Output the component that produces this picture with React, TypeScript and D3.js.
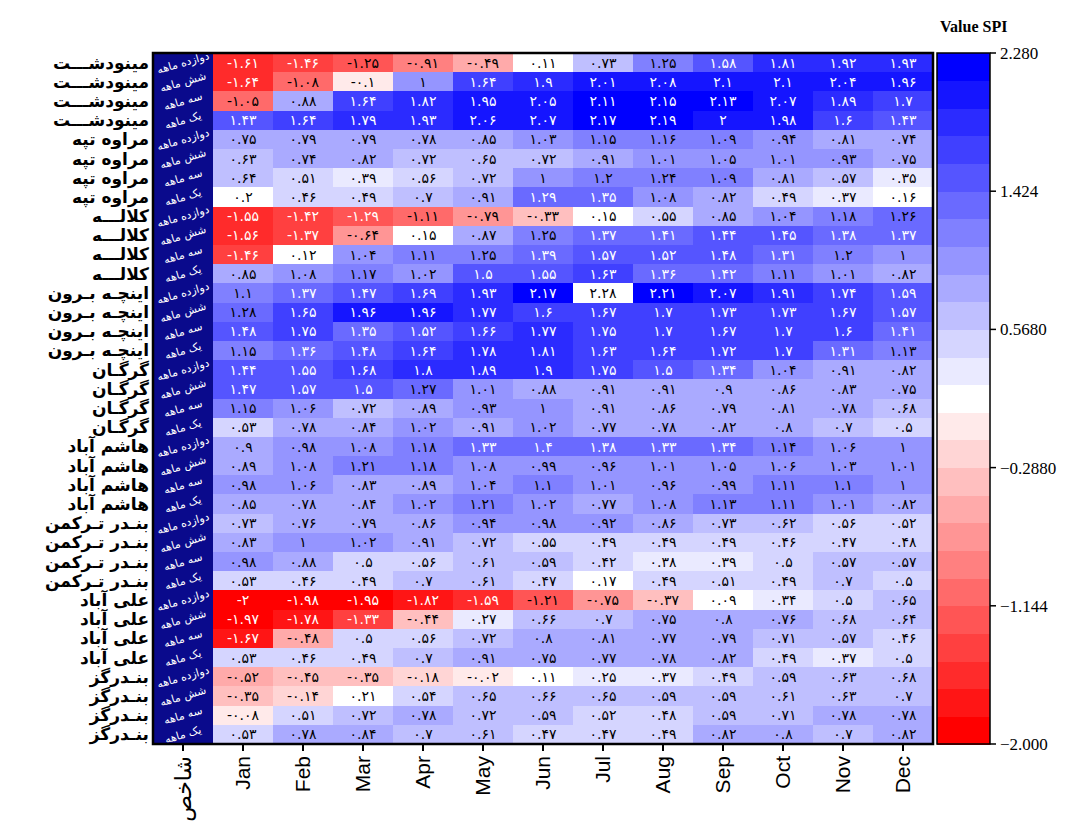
import React from 'react';
import * as d3 from 'd3';

const months = ['Jan', 'Feb', 'Mar', 'Apr', 'May', 'Jun', 'Jul', 'Aug', 'Sep', 'Oct', 'Nov', 'Dec'];
const indexLabel = 'شاخص';
const stations = ['مینودشـــت', 'مراوه تپه', 'کلالـــه', 'اینچـه بـرون', 'گرگـان', 'هاشم آباد', 'بنـدر تـرکمن', 'علی آباد', 'بنـدرگز'];
const timescales = ['دوازده ماهه', 'شش ماهه', 'سه ماهه', 'یک ماهه'];
const legendTicks = [2.28, 1.424, 0.568, -0.288, -1.144, -2.0];
const legendTickLabels = ['2.280', '1.424', '0.5680', '\u22120.2880', '\u22121.144', '\u22122.000'];
const legendTitle = 'Value SPI';

const minudasht = [
  [-1.61, -1.46, -1.25, -0.91, -0.49, 0.11, 0.73, 1.25, 1.58, 1.81, 1.92, 1.93],
  [-1.64, -1.08, -0.1, 1, 1.64, 1.9, 2.01, 2.08, 2.1, 2.1, 2.04, 1.96],
  [-1.05, 0.88, 1.64, 1.82, 1.95, 2.05, 2.11, 2.15, 2.13, 2.07, 1.89, 1.7],
  [1.43, 1.64, 1.79, 1.93, 2.06, 2.07, 2.17, 2.19, 2, 1.98, 1.6, 1.43],
];
const maravehTappeh = [
  [0.75, 0.79, 0.79, 0.78, 0.85, 1.03, 1.15, 1.16, 1.09, 0.94, 0.81, 0.74],
  [0.63, 0.74, 0.82, 0.72, 0.65, 0.72, 0.91, 1.01, 1.05, 1.01, 0.93, 0.75],
  [0.64, 0.51, 0.39, 0.56, 0.72, 1, 1.2, 1.24, 1.09, 0.81, 0.57, 0.35],
  [0.2, 0.46, 0.49, 0.7, 0.91, 1.29, 1.35, 1.08, 0.82, 0.49, 0.37, 0.16],
];
const kalaleh = [
  [-1.55, -1.42, -1.29, -1.11, -0.79, -0.33, 0.15, 0.55, 0.85, 1.04, 1.18, 1.26],
  [-1.56, -1.37, -0.64, 0.15, 0.87, 1.25, 1.37, 1.41, 1.44, 1.45, 1.38, 1.37],
  [-1.46, 0.12, 1.04, 1.11, 1.25, 1.39, 1.57, 1.52, 1.48, 1.31, 1.2, 1],
  [0.85, 1.08, 1.17, 1.02, 1.5, 1.55, 1.63, 1.36, 1.42, 1.11, 1.01, 0.82],
];
const incheBoroun = [
  [1.1, 1.37, 1.47, 1.69, 1.93, 2.17, 2.28, 2.21, 2.07, 1.91, 1.74, 1.59],
  [1.28, 1.65, 1.96, 1.96, 1.77, 1.6, 1.67, 1.7, 1.73, 1.73, 1.67, 1.57],
  [1.48, 1.75, 1.35, 1.52, 1.66, 1.77, 1.75, 1.7, 1.67, 1.7, 1.6, 1.41],
  [1.15, 1.36, 1.48, 1.64, 1.78, 1.81, 1.63, 1.64, 1.72, 1.7, 1.31, 1.13],
];
const gorgan = [
  [1.44, 1.55, 1.68, 1.8, 1.89, 1.9, 1.75, 1.5, 1.34, 1.04, 0.91, 0.82],
  [1.47, 1.57, 1.5, 1.27, 1.01, 0.88, 0.91, 0.91, 0.9, 0.86, 0.83, 0.75],
  [1.15, 1.06, 0.72, 0.89, 0.93, 1, 0.91, 0.86, 0.79, 0.81, 0.78, 0.68],
  [0.53, 0.78, 0.84, 1.02, 0.91, 1.02, 0.77, 0.78, 0.82, 0.8, 0.7, 0.5],
];
const hashemabad = [
  [0.9, 0.98, 1.08, 1.18, 1.33, 1.4, 1.38, 1.33, 1.34, 1.14, 1.06, 1],
  [0.89, 1.08, 1.21, 1.18, 1.08, 0.99, 0.96, 1.01, 1.05, 1.06, 1.03, 1.01],
  [0.98, 1.06, 0.83, 0.89, 1.04, 1.1, 1.01, 0.96, 0.99, 1.11, 1.1, 1],
  [0.85, 0.78, 0.84, 1.02, 1.21, 1.02, 0.77, 1.08, 1.13, 1.11, 1.01, 0.82],
];
const bandarTorkaman = [
  [0.73, 0.76, 0.79, 0.86, 0.94, 0.98, 0.92, 0.86, 0.73, 0.62, 0.56, 0.52],
  [0.83, 1, 1.02, 0.91, 0.72, 0.55, 0.49, 0.49, 0.49, 0.46, 0.47, 0.48],
  [0.98, 0.88, 0.5, 0.56, 0.61, 0.59, 0.42, 0.38, 0.39, 0.5, 0.57, 0.57],
  [0.53, 0.46, 0.49, 0.7, 0.61, 0.47, 0.17, 0.49, 0.51, 0.49, 0.7, 0.5],
];
const aliabad = [
  [-2, -1.98, -1.95, -1.82, -1.59, -1.21, -0.75, -0.37, 0.09, 0.34, 0.5, 0.65],
  [-1.97, -1.78, -1.33, -0.44, 0.27, 0.66, 0.7, 0.75, 0.8, 0.76, 0.68, 0.64],
  [-1.67, -0.48, 0.5, 0.56, 0.72, 0.8, 0.81, 0.77, 0.79, 0.71, 0.57, 0.46],
  [0.53, 0.46, 0.49, 0.7, 0.91, 0.75, 0.77, 0.78, 0.82, 0.49, 0.37, 0.5],
];
const bandarGaz = [
  [-0.52, -0.45, -0.35, -0.18, -0.02, 0.11, 0.25, 0.37, 0.49, 0.59, 0.63, 0.68],
  [-0.35, -0.14, 0.21, 0.54, 0.65, 0.66, 0.65, 0.59, 0.59, 0.61, 0.63, 0.7],
  [-0.08, 0.51, 0.72, 0.78, 0.72, 0.59, 0.52, 0.48, 0.59, 0.71, 0.78, 0.78],
  [0.53, 0.78, 0.84, 0.7, 0.61, 0.47, 0.47, 0.49, 0.82, 0.8, 0.7, 0.82],
];
const stationData = [minudasht, maravehTappeh, kalaleh, incheBoroun, gorgan, hashemabad, bandarTorkaman, aliabad, bandarGaz];

const VMIN = -2.0;
const VMAX = 2.28;
const NBINS = 25;

const toFa = (s: string) => s.replace(/\d/g, (d) => '۰۱۲۳۴۵۶۷۸۹'[+d]);

function binColor(idx: number): string {
  if (idx < 0 || idx >= NBINS) return '#ffffff';
  const mid = (NBINS - 1) / 2;
  if (idx < mid) return d3.interpolateRgb('#ff0000', '#ffffff')(idx / mid);
  if (idx === mid) return '#ffffff';
  return d3.interpolateRgb('#ffffff', '#0000ff')((idx - mid) / mid);
}

export default function App() {
  const W = 1083;
  const H = 831;
  const L = 153, R = 933, T = 53, B = 744;
  const cols = [indexLabel, ...months];
  const x = d3.scaleBand<string>().domain(cols).range([L, R]);
  const rows = stationData.flatMap((sd, si) =>
    sd.map((vals, ti) => ({ key: `${si}-${ti}`, station: stations[si], scale: timescales[ti], vals }))
  );
  const y = d3.scaleBand<string>().domain(rows.map((r) => r.key)).range([T, B]);
  const binW = (VMAX - VMIN) / NBINS;
  const binOf = (v: number) => Math.floor((v - VMIN) / binW + 1e-9);
  const cbX0 = 937, cbX1 = 990;
  const cy = d3.scaleLinear().domain([VMIN, VMAX]).range([B, T]);
  const bins = d3.range(NBINS);

  const faFont = '"DejaVu Sans", sans-serif';

  return (
    <svg width={W} height={H} style={{ position: 'absolute', left: 0, top: 0, background: '#fff' }}>
      {/* index column */}
      <rect x={x(indexLabel)} y={T} width={x.bandwidth()} height={B - T} fill="#0a0a8c" />
      {rows.map((r) => {
        const cx = (x(indexLabel) as number) + x.bandwidth() / 2;
        const yy = (y(r.key) as number) + y.bandwidth() / 2;
        return (
          <text key={'ts' + r.key} x={cx} y={yy} dy="0.35em" fill="#fff" fontSize={11}
            fontFamily={faFont} textAnchor="middle" transform={`rotate(-16 ${cx} ${yy})`}>
            {r.scale}
          </text>
        );
      })}
      {/* cells */}
      {rows.map((r) =>
        r.vals.map((v, mi) => {
          const col = binColor(binOf(v));
          return (
            <rect key={r.key + '-' + mi} x={x(months[mi])} y={y(r.key)} width={x.bandwidth() + 0.5}
              height={y.bandwidth() + 0.5} fill={col} shapeRendering="crispEdges" />
          );
        })
      )}
      {rows.map((r) =>
        r.vals.map((v, mi) => {
          const b = binOf(v);
          const inRange = b >= 0 && b < NBINS;
          const white = inRange && (v >= 1.29 || v <= -1.28);
          const cx = (x(months[mi]) as number) + x.bandwidth() / 2;
          const yy = (y(r.key) as number) + y.bandwidth() / 2;
          return (
            <text key={'t' + r.key + '-' + mi} x={cx} y={yy} dy="0.36em" textAnchor="middle"
              fontSize={14} fontFamily={faFont} fill={white ? '#ffffff' : '#000000'}>
              {toFa(String(v))}
            </text>
          );
        })
      )}
      {/* frame */}
      <rect x={L} y={T} width={R - L} height={B - T} fill="none" stroke="#000" strokeWidth={2.5} />
      {/* x ticks and labels */}
      {cols.map((c) => {
        const cx = (x(c) as number) + x.bandwidth() / 2;
        const ly = B + 12;
        return (
          <g key={'x' + c}>
            <line x1={cx} x2={cx} y1={B} y2={B + 7} stroke="#000" strokeWidth={2} />
            <text x={cx} y={ly} dy="0.35em" textAnchor="end" fontSize={c === indexLabel ? 22 : 21}
              fontFamily={c === indexLabel ? faFont : '"Liberation Sans", Arial, sans-serif'}
              transform={`rotate(-90 ${cx} ${ly})`} fill="#000">
              {c}
            </text>
          </g>
        );
      })}
      {/* station labels */}
      {rows.map((r) => {
        const yy = (y(r.key) as number) + y.bandwidth() / 2;
        return (
          <text key={'s' + r.key} x={L - 4} y={yy} dy="0.35em" textAnchor="end" fontSize={17}
            fontWeight="bold" fontFamily={faFont} fill="#000">
            {r.station}
          </text>
        );
      })}
      {/* colorbar */}
      {bins.map((i) => (
        <rect key={'cb' + i} x={cbX0} y={cy(VMIN + (i + 1) * binW)} width={cbX1 - cbX0}
          height={cy(VMIN + i * binW) - cy(VMIN + (i + 1) * binW) + 0.5} fill={binColor(i)}
          shapeRendering="crispEdges" />
      ))}
      <rect x={cbX0} y={T} width={cbX1 - cbX0} height={B - T} fill="none" stroke="#000" strokeWidth={1.5} />
      {legendTicks.map((t, i) => (
        <g key={'lt' + i}>
          <line x1={cbX1} x2={cbX1 + 6} y1={cy(t)} y2={cy(t)} stroke="#000" strokeWidth={1.5} />
          <text x={cbX1 + 10} y={cy(t)} dy="0.35em" fontSize={17}
            fontFamily='"Liberation Serif", "Times New Roman", serif' fill="#000">
            {legendTickLabels[i]}
          </text>
        </g>
      ))}
      <text x={940} y={32} fontSize={16} fontWeight="bold"
        fontFamily='"Liberation Serif", "Times New Roman", serif' fill="#000">
        {legendTitle}
      </text>
    </svg>
  );
}
